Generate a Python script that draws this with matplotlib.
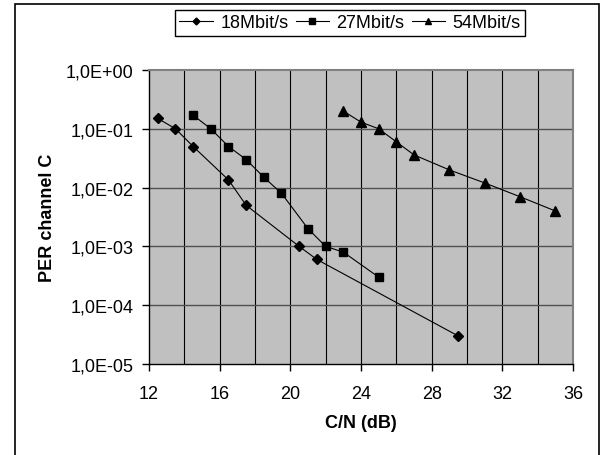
import matplotlib
matplotlib.use('Agg')
import matplotlib.pyplot as plt
from matplotlib.patches import Rectangle

plt.rcParams['font.family'] = ['Liberation Sans', 'DejaVu Sans']

# values
cn_18 = [12.5, 13.5, 14.5, 16.5, 17.5, 20.5, 21.5, 29.5]
per_18 = [0.15, 0.1, 0.05, 0.0135, 0.005, 0.001, 0.0006, 0.00003]

cn_27 = [14.5, 15.5, 16.5, 17.5, 18.5, 19.5, 21, 22, 23, 25]
per_27 = [0.17, 0.1, 0.05, 0.03, 0.015, 0.008, 0.002, 0.001, 0.0008, 0.0003]

cn_54 = [23, 24, 25, 26, 27, 29, 31, 33, 35]
per_54 = [0.2, 0.13, 0.1, 0.06, 0.036, 0.02, 0.012, 0.007, 0.004]

ytick_vals = [1e-5, 1e-4, 1e-3, 1e-2, 1e-1, 1]
ytick_labels = ['1,0E-05', '1,0E-04', '1,0E-03', '1,0E-02', '1,0E-01', '1,0E+00']
xtick_vals = [12, 16, 20, 24, 28, 32, 36]

fig = plt.figure(figsize=(6.07, 4.56), dpi=100)
ax = fig.add_axes([149/607, 1 - 365/456, 424/607, 294/456])
ax.set_facecolor('#c0c0c0')

# outer frame of the chart
fig.patches.append(Rectangle((15/607, -0.02), 584/607, 1.0 - 5/456 + 0.02,
                             transform=fig.transFigure, fill=False,
                             edgecolor='black', linewidth=1.2))

ax.plot(cn_18, per_18, color='black', lw=0.8, marker='D', ms=5, label='18Mbit/s')
ax.plot(cn_27, per_27, color='black', lw=0.8, marker='s', ms=6, label='27Mbit/s')
ax.plot(cn_54, per_54, color='black', lw=0.8, marker='^', ms=7, label='54Mbit/s')

ax.set_yscale('log')
ax.set_xlim(12, 36)
ax.set_ylim(1e-5, 1)

# gridlines: vertical every 2 dB, horizontal at decades
for xv in range(14, 36, 2):
    ax.axvline(xv, color='black', lw=0.8, zorder=1)
for yv in ytick_vals[1:-1]:
    ax.axhline(yv, color='#505050', lw=1.0, zorder=1)

ax.set_yticks(ytick_vals)
ax.set_yticklabels(ytick_labels)
ax.minorticks_off()
ax.set_xticks(xtick_vals)
ax.set_xticklabels([str(v) for v in xtick_vals])
ax.tick_params(axis='both', labelsize=13, length=5, width=1, direction='out', colors='black')
ax.tick_params(axis='y', pad=6)
ax.tick_params(axis='x', pad=10)

for side in ['top', 'right']:
    ax.spines[side].set_color('#808080')
    ax.spines[side].set_linewidth(1.5)
for side in ['left', 'bottom']:
    ax.spines[side].set_color('black')
    ax.spines[side].set_linewidth(1.0)

ax.set_xlabel('C/N (dB)', fontsize=13, fontweight='bold')
ax.set_ylabel('PER channel C', fontsize=13, fontweight='bold')
ax.xaxis.set_label_coords(0.5, -0.17)
ax.yaxis.set_label_coords(-0.22, 0.5)

leg = fig.legend(loc='center', bbox_to_anchor=(350/607, 1 - 24/456), ncol=3,
                 fontsize=13, frameon=True, fancybox=False, framealpha=1,
                 edgecolor='black', handlelength=1.85, handletextpad=0.42,
                 columnspacing=0.4, borderpad=0.25, markerscale=0.7)
leg.get_frame().set_linewidth(1.0)

fig.savefig('out.png', dpi=100)
